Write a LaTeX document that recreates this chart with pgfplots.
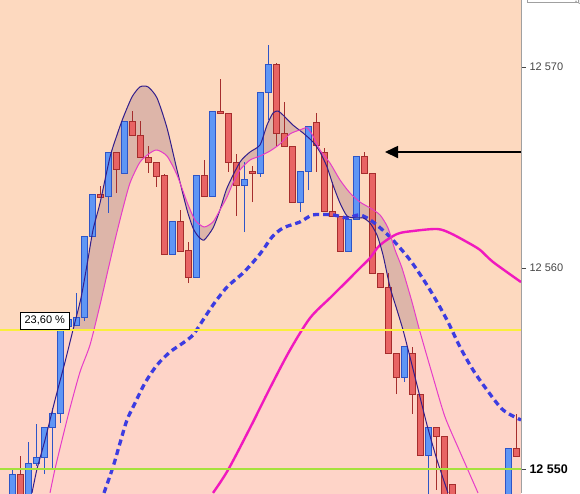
\documentclass[border=0pt]{standalone}
\usepackage{pgfplots}
\pgfplotsset{compat=1.18}
\usepackage{pgfplotstable}
\usepgfplotslibrary{fillbetween}
\usetikzlibrary{arrows.meta}
\usepackage{fontspec}
\setmainfont{Liberation Sans}

\definecolor{upbg}{RGB}{253,217,191}
\definecolor{lowbg}{RGB}{254,212,200}
\definecolor{cblue}{RGB}{95,150,245}
\definecolor{cbluedark}{RGB}{45,85,200}
\definecolor{cred}{RGB}{232,100,100}
\definecolor{creddark}{RGB}{165,45,45}
\definecolor{navyl}{RGB}{50,30,140}
\definecolor{magthin}{RGB}{230,60,200}
\definecolor{magthick}{RGB}{240,25,190}
\definecolor{dashblue}{RGB}{60,60,225}
\definecolor{yel}{RGB}{250,238,60}
\definecolor{grn}{RGB}{165,225,60}
\definecolor{fillc}{RGB}{150,100,120}
\definecolor{axisgray}{RGB}{160,160,160}
\definecolor{lblgray}{RGB}{70,70,70}

\pgfplotstableread{
i o h l c
0 12548.00 12550.05 12547.50 12549.75
1 12549.75 12550.65 12547.50 12548.00
2 12548.00 12551.34 12547.50 12550.25
3 12550.25 12552.24 12550.15 12550.55
4 12550.55 12552.04 12549.75 12552.04
5 12552.04 12553.03 12550.00 12552.74
6 12552.74 12557.51 12552.29 12557.31
7 12557.11 12557.61 12557.00 12557.46
8 12557.16 12558.76 12557.11 12557.56
9 12557.56 12561.59 12557.36 12561.59
10 12561.59 12563.68 12561.59 12563.68
11 12563.68 12564.08 12563.53 12563.53
12 12563.58 12565.77 12562.74 12565.77
13 12565.77 12565.77 12563.73 12564.88
14 12564.68 12567.31 12564.68 12567.31
15 12567.31 12567.81 12566.57 12566.57
16 12566.57 12567.31 12565.52 12565.52
17 12565.52 12566.07 12564.73 12565.27
18 12565.27 12565.27 12564.03 12564.53
19 12564.58 12564.68 12560.65 12560.65
20 12560.65 12562.29 12560.65 12562.29
21 12562.29 12562.89 12560.80 12560.80
22 12560.85 12561.29 12559.25 12559.55
23 12559.55 12564.58 12559.55 12564.58
24 12564.58 12565.37 12563.58 12563.58
25 12563.58 12567.81 12563.58 12567.81
26 12567.81 12569.40 12567.71 12567.71
27 12567.71 12567.71 12564.78 12565.27
28 12565.27 12565.67 12562.59 12564.08
29 12564.08 12565.27 12561.79 12564.38
30 12564.78 12565.07 12563.28 12564.68
31 12564.68 12568.71 12564.53 12568.71
32 12568.71 12571.09 12567.36 12570.10
33 12570.10 12570.20 12566.02 12566.67
34 12566.67 12568.26 12566.02 12566.02
35 12566.02 12566.02 12563.28 12563.28
36 12563.28 12564.78 12562.79 12564.78
37 12564.78 12567.06 12563.88 12567.06
38 12567.26 12567.71 12564.78 12566.07
39 12565.77 12565.97 12562.79 12562.79
40 12562.79 12564.28 12562.54 12562.54
41 12562.54 12562.54 12560.80 12560.80
42 12560.80 12562.39 12560.80 12562.39
43 12562.39 12565.57 12562.39 12565.57
44 12565.57 12565.77 12564.68 12564.68
45 12564.68 12564.68 12559.75 12559.75
46 12559.75 12559.75 12559.05 12559.05
47 12559.05 12559.75 12555.77 12555.77
48 12555.77 12555.77 12553.73 12554.53
49 12554.53 12556.07 12554.33 12556.07
50 12555.77 12556.07 12552.74 12553.73
51 12553.73 12553.73 12550.65 12550.65
52 12550.65 12552.04 12547.50 12552.04
53 12552.04 12552.04 12548.96 12551.64
54 12551.64 12551.64 12547.50 12548.00
55 12549.25 12549.25 12547.20 12547.80
56 12548.30 12548.60 12546.90 12547.20
57 12547.20 12547.60 12546.40 12546.80
58 12546.80 12547.90 12546.50 12547.60
59 12547.60 12548.50 12547.00 12548.20
60 12548.20 12548.60 12547.40 12547.70
61 12547.70 12548.40 12547.30 12548.10
62 12548.10 12551.04 12547.80 12551.04
63 12551.04 12552.74 12550.60 12550.60
}\tCandles

\pgfplotstableread{
x y
2.5 12548.81
3.125 12550.00
4.125 12551.44
5.375 12553.43
6.625 12555.32
7.625 12556.92
8.625 12558.51
9.375 12560.15
10.125 12561.89
11.0 12563.23
12.25 12565.52
13.125 12566.62
13.875 12567.46
15.0 12568.51
16.0 12569.01
17.0 12569.01
18.125 12568.46
19.375 12566.97
20.625 12564.88
21.875 12562.89
22.625 12561.99
23.25 12561.59
24.0 12561.39
25.125 12561.99
26.0 12562.89
26.875 12563.98
28.5 12565.27
29.75 12565.77
31.0 12566.12
31.875 12567.11
32.625 12567.71
33.25 12567.81
33.875 12567.61
35.125 12567.11
36.375 12566.72
37.625 12566.27
38.5 12565.77
39.375 12565.03
40.125 12564.13
41.0 12563.23
41.875 12562.59
42.875 12562.49
43.875 12562.49
44.75 12562.24
45.625 12561.64
46.375 12560.65
47.25 12559.05
48.125 12557.91
48.875 12556.92
49.75 12555.57
50.625 12554.18
51.875 12552.19
53.125 12550.45
54.5 12548.81
}\tNavy

\pgfplotstableread{
x y
4.75 12548.81
5.375 12550.00
6.25 12551.44
7.25 12553.03
8.5 12554.83
9.75 12556.17
11.0 12558.16
12.0 12559.90
12.875 12561.39
13.75 12562.79
14.75 12564.23
16.0 12565.27
17.25 12565.72
18.125 12565.87
19.375 12565.57
20.625 12564.63
21.875 12563.28
22.875 12562.39
24.0 12562.04
25.125 12562.29
26.0 12562.89
26.875 12563.53
27.625 12564.23
28.5 12564.88
29.75 12565.37
31.0 12565.57
32.25 12565.82
33.5 12566.17
34.75 12566.67
36.0 12566.87
36.875 12566.97
37.625 12566.57
38.5 12565.87
39.75 12565.22
41.0 12564.38
42.25 12563.73
43.5 12563.28
44.75 12562.99
46.0 12562.64
47.0 12561.99
47.875 12560.90
48.75 12560.00
50.0 12558.31
51.0 12556.82
52.625 12554.58
54.125 12552.59
56.0 12550.85
58.25 12548.81
}\tMagThin

\pgfplotstableread{
x y
11.5 12548.81
12.625 12550.10
13.5 12551.29
14.375 12552.44
15.375 12553.28
16.625 12554.28
18.125 12555.17
19.75 12555.82
21.375 12556.27
22.625 12556.67
23.875 12557.41
25.125 12558.16
26.875 12559.05
28.875 12559.75
30.375 12560.40
31.375 12560.90
32.5 12561.54
33.875 12561.99
36.0 12562.29
37.625 12562.64
40.125 12562.64
41.875 12562.49
43.5 12562.64
45.125 12562.29
47.25 12561.54
49.75 12560.40
52.25 12558.91
54.375 12557.41
56.0 12556.07
57.625 12554.93
59.375 12553.93
61.375 12552.94
63.625 12552.44
}\tDash

\pgfplotstableread{
x y
25.125 12548.81
27.0 12549.95
29.75 12552.04
32.25 12554.03
34.75 12555.92
37.25 12557.51
39.75 12558.51
41.625 12559.25
43.5 12560.00
44.75 12560.50
46.0 12561.14
48.125 12561.69
50.125 12561.84
53.125 12561.94
54.75 12561.74
56.875 12561.29
58.5 12560.90
60.125 12560.30
63.625 12559.30
}\tMagThick

\begin{document}
\begin{tikzpicture}
\begin{axis}[
  at={(0,0)}, anchor=south west,
  width=521pt, height=493pt, scale only axis,
  xmin=-1.5, xmax=63.625, ymin=12548.806, ymax=12573.333,
  axis x line=none, axis y line=right,
  axis line style={-, draw=axisgray, line width=0.8pt},
  xtick=\empty,
  ytick={12550,12560,12570},
  yticklabels={{\fontsize{12.5}{14}\selectfont\bfseries\color{black}12 550},12 560,12 570},
  yticklabel style={font=\fontsize{11}{13}\selectfont, text=lblgray},
  tick align=outside, major tick length=5pt,
  ytick style={draw=lblgray, line width=0.6pt},
  axis background/.style={fill=upbg},
  clip=true,
]
\fill[lowbg] (axis cs:-1.5,12548) rectangle (axis cs:63.625,12556.92);
\addplot[draw=none, smooth, tension=0.4, name path=navyP, forget plot] table[x=x,y=y]{\tNavy};
\addplot[draw=none, smooth, tension=0.4, name path=magP, forget plot] table[x=x,y=y]{\tMagThin};
\addplot[fill=fillc, fill opacity=0.3, draw=none, forget plot] fill between[of=navyP and magP];

\pgfplotstablegetrowsof{\tCandles}
\pgfmathtruncatemacro{\N}{\pgfplotsretval-1}
\pgfplotsforeachungrouped \k in {0,...,\N}{%
  \pgfplotstablegetelem{\k}{i}\of\tCandles \let\ci\pgfplotsretval
  \pgfplotstablegetelem{\k}{o}\of\tCandles \let\co\pgfplotsretval
  \pgfplotstablegetelem{\k}{h}\of\tCandles \let\ch\pgfplotsretval
  \pgfplotstablegetelem{\k}{l}\of\tCandles \let\cl\pgfplotsretval
  \pgfplotstablegetelem{\k}{c}\of\tCandles \let\cc\pgfplotsretval
  \pgfmathsetmacro{\xl}{\ci-0.375}%
  \pgfmathsetmacro{\xr}{\ci+0.375}%
  \ifdim\cc pt<\co pt \def\fc{cred}\def\bc{creddark}\else\def\fc{cblue}\def\bc{cbluedark}\fi
  \edef\temp{%
    \noexpand\addplot[forget plot, draw=\bc, line width=1pt] coordinates {(\ci,\cl) (\ci,\ch)};
    \noexpand\addplot[forget plot, fill=\fc, draw=\bc, line width=1pt] coordinates {(\xl,\co) (\xr,\co) (\xr,\cc) (\xl,\cc)} -- cycle;
  }%
  \temp
}

\addplot[dashblue, line width=3.3pt, dash pattern=on 6pt off 4pt, smooth, tension=0.5, forget plot] table[x=x,y=y]{\tDash};
\addplot[magthick, line width=2.4pt, smooth, tension=0.5, forget plot] table[x=x,y=y]{\tMagThick};
\addplot[navyl, line width=1pt, smooth, tension=0.4, forget plot] table[x=x,y=y]{\tNavy};
\addplot[magthin, line width=1pt, smooth, tension=0.4, forget plot] table[x=x,y=y]{\tMagThin};
\addplot[yel, line width=1.6pt, forget plot] coordinates {(-1.5,12556.92) (63.625,12556.92)};
\addplot[grn, line width=2.6pt, forget plot] coordinates {(-1.5,12550) (63.625,12550)};

\node[draw=black, fill=white, line width=0.6pt, anchor=south west, minimum width=49pt, minimum height=17pt, inner sep=1pt, font=\fontsize{11}{13}\selectfont] at (axis cs:1.0,12556.95) {23,60 \%};
\draw[black, line width=1.7pt, -{Triangle[length=13pt,width=12pt]}] (axis cs:63.625,12565.77) -- (axis cs:46.625,12565.77);
\end{axis}
\draw[axisgray, line width=0.8pt] (527pt,496pt) -- (527pt,491pt) -- (578pt,491pt) -- (578pt,496pt);
\pgfresetboundingbox
\path[use as bounding box] (0,0) rectangle (580pt,493pt);
\end{tikzpicture}
\end{document}
